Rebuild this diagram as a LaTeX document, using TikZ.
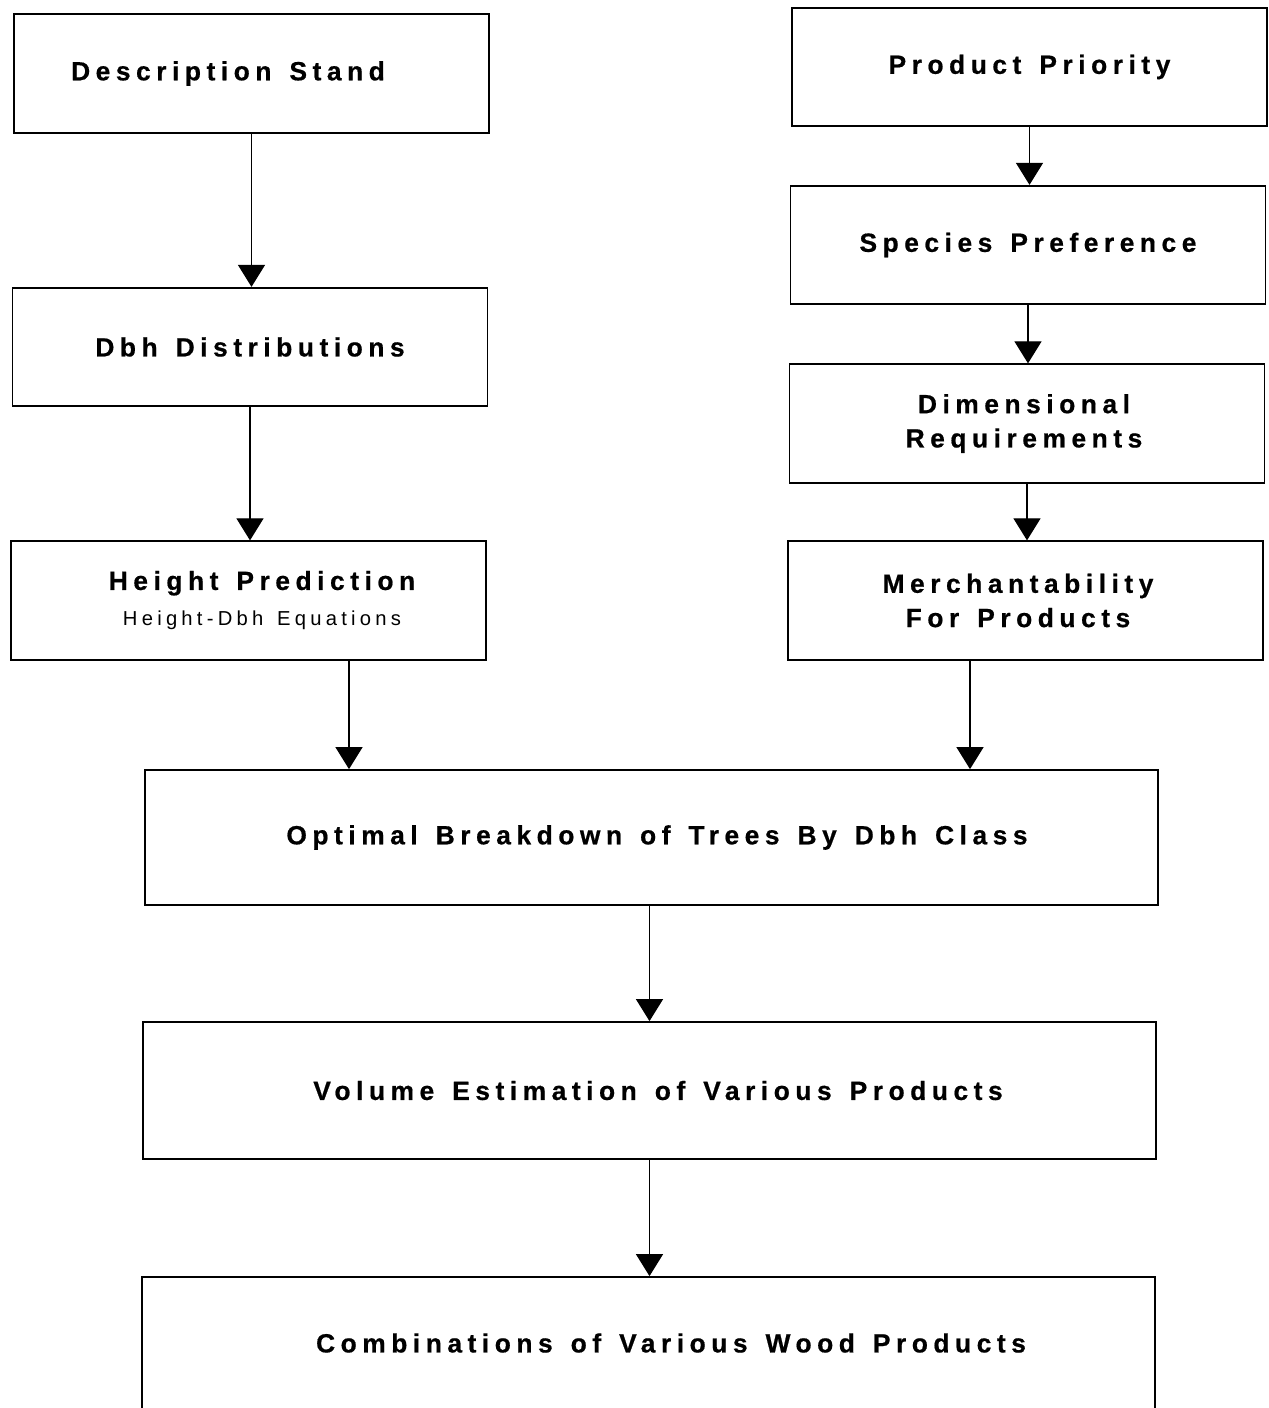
\documentclass[tikz,border=0pt]{standalone}
\usepackage{fontspec}
\newfontfamily\boxfont[LetterSpace=21, WordSpace=1.4, BoldFeatures={FakeBold=0.6}]{Liberation Sans}
\usetikzlibrary{positioning}
\usetikzlibrary{arrows.meta}

\begin{document}
\begin{tikzpicture}[
            box/.style = {
                draw,
                rectangle,
                minimum width = #1,
                minimum height = 2.37cm,
                inner sep = 0pt,
                line width = 1pt
            },
            box/.default = 9.5cm,
            wide/.style = {
                box = 20.26cm,
                minimum height = 2.72cm
            },
            title/.style = {
                font = \boxfont\bfseries\fontsize{15}{19.5}\selectfont,
                align = center
            },
            flow/.style = {
                line width = 0.7pt,
                -{Triangle[width=5.4mm, length=4.4mm]}
            }
            ]
            \useasboundingbox (0,0) rectangle (25.36,-28.16);

            % left column
            \node[box, label={[title, xshift=-4.7mm]center:Description Stand}] (stand) at (5.03,-1.47) {};
            \node[box, label={[title]center:Dbh Distributions}] (dbh) at (5.0,-6.94) {};
            \node[box, label={[title, xshift=2.7mm]center:Height Prediction\\[1pt]{\mdseries\fontsize{11.5}{13}\selectfont Height-Dbh Equations}}] (height) at (4.97,-12.01) {};

            % right column
            \node[box, label={[title]center:Product Priority}] (priority) at (20.59,-1.34) {};
            \node[box, label={[title]center:Species Preference}] (species) at (20.56,-4.9) {};
            \node[box, label={[title, xshift=-0.6mm]center:Dimensional\\Requirements}] (dims) at (20.54,-8.47) {};
            \node[box, label={[title, xshift=-1.5mm]center:Merchantability\\For Products}] (merch) at (20.51,-12.01) {};

            % bottom
            \node[wide, minimum height=2.7cm, label={[title, xshift=1.1mm]center:Optimal Breakdown of Trees By Dbh Class}] (optimal) at (13.03,-16.75) {};
            \node[wide, minimum height=2.74cm, label={[title, xshift=1.7mm]center:Volume Estimation of Various Products}] (volume) at (12.99,-21.81) {};
            \node[wide, label={[title, xshift=4.5mm, yshift=0.4mm]center:Combinations of Various Wood Products}] (combo) at (12.97,-26.9) {};

            \draw[flow] (stand) -- (stand |- dbh.north);
            \draw[flow] (dbh) -- (dbh |- height.north);
            \draw[flow] ([xshift=2.01cm]height.south) -- ([xshift=2.01cm]height.south |- optimal.north);
            \draw[flow] (priority) -- (priority |- species.north);
            \draw[flow] (species) -- (species |- dims.north);
            \draw[flow] (dims) -- (dims |- merch.north);
            \draw[flow] ([xshift=-1.11cm]merch.south) -- ([xshift=-1.11cm]merch.south |- optimal.north);
            \draw[flow] (optimal.south -| volume) -- (volume);
            \draw[flow] (volume) -- (volume |- combo.north);
        \end{tikzpicture}
\end{document}
